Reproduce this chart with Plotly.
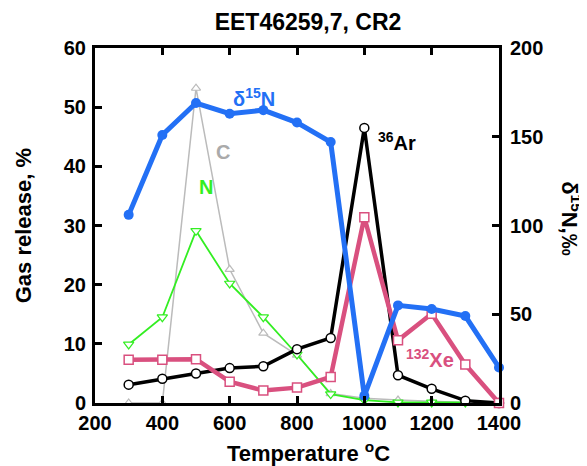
import plotly.graph_objects as go

temps = [300, 400, 500, 600, 700, 800, 900, 1000, 1100, 1200, 1300, 1400]
ar36 = [3.1, 4.1, 5.0, 5.9, 6.2, 9.1, 11.0, 46.5, 4.7, 2.4, 0.4, 0.0]
xe132 = [7.3, 7.3, 7.4, 3.6, 2.1, 2.6, 4.4, 31.4, 10.6, 15.1, 6.5, 0.0]
n_rel = [9.9, 14.5, 29.1, 20.2, 14.5, 8.2, 1.5, 0.5, 0.1, 0.1, 0.1]
c_rel = [0.0, 0.0, 53.2, 22.6, 11.8, 8.1, 1.6, 0.8, 0.5, 0.3, 0.1]
d15n = [106, 151, 169, 163, 165, 158, 147, 4, 55, 53, 49, 20]

x_ticks = [200, 400, 600, 800, 1000, 1200, 1400]
y_ticks = [0, 10, 20, 30, 40, 50, 60]
y2_ticks = [0, 50, 100, 150, 200]

GRAY = "#bbbbbb"
GREEN = "#33ee22"
BLACK = "#000000"
PINK = "#d9507f"
BLUE = "#2370f5"
FONT = "Liberation Sans"

# page offset (browser body margin) and target plot box in screenshot pixels
OFF = 8
W, H = 587 - OFF, 466 - OFF
X0, X1, Y0, Y1 = 95, 499, 47.5, 403  # plot box left, right, top, bottom
L, R, T, B = X0 - OFF, W - (X1 - OFF), Y0 - OFF, H - (Y1 - OFF)
PW = X1 - X0
PH = Y1 - Y0

fig = go.Figure()
fig.add_trace(go.Scatter(x=temps[:len(c_rel)], y=c_rel, mode="lines+markers",
                         line=dict(color=GRAY, width=1.5),
                         marker=dict(symbol="triangle-up", size=8, color="white",
                                     line=dict(color=GRAY, width=1.2)),
                         cliponaxis=False, showlegend=False))
fig.add_trace(go.Scatter(x=temps[:len(n_rel)], y=n_rel, mode="lines+markers",
                         line=dict(color=GREEN, width=1.8),
                         marker=dict(symbol="triangle-down", size=9, color="white",
                                     line=dict(color=GREEN, width=1.2)),
                         cliponaxis=False, showlegend=False))
fig.add_trace(go.Scatter(x=temps, y=ar36, mode="lines+markers",
                         line=dict(color=BLACK, width=3.5),
                         marker=dict(symbol="circle", size=9, color="white",
                                     line=dict(color=BLACK, width=1.5)),
                         cliponaxis=False, showlegend=False))
fig.add_trace(go.Scatter(x=temps, y=xe132, mode="lines+markers",
                         line=dict(color=PINK, width=4.5),
                         marker=dict(symbol="square", size=9, color="white",
                                     line=dict(color=PINK, width=1.5)),
                         cliponaxis=False, showlegend=False))
fig.add_trace(go.Scatter(x=temps, y=d15n, mode="lines+markers", yaxis="y2",
                         line=dict(color=BLUE, width=5),
                         marker=dict(symbol="circle", size=10, color=BLUE),
                         cliponaxis=False, showlegend=False))

tickfont = dict(family=FONT, size=20, color="black")
common = dict(ticks="inside", ticklen=7, tickwidth=3, tickcolor="black",
              showline=True, linewidth=3, linecolor="black",
              showgrid=False, zeroline=False, tickfont=tickfont, automargin=False)


def fx(px):  # screenshot x -> paper fraction
    return (px - X0) / PW


def fy(py):  # screenshot y -> paper fraction
    return (Y1 - py) / PH


fig.update_layout(
    width=W, height=H,
    margin=dict(l=L, r=R, t=T, b=B),
    paper_bgcolor="white", plot_bgcolor="white",
    font=dict(family=FONT, color="black"),
    title=dict(text="<b>EET46259,7, CR2</b>", x=fx(308), xanchor="center",
               xref="paper", yref="container",
               y=1 - (22 - OFF) / H, yanchor="middle", font=dict(family=FONT, size=23)),
    xaxis=dict(range=[200, 1400], tickvals=x_ticks,
               ticktext=["<b>%d</b>" % v for v in x_ticks], mirror="ticks", **common),
    yaxis=dict(range=[0, 60], tickvals=y_ticks, ticklabelstandoff=2,
               ticktext=["<b>%d</b>" % v for v in y_ticks], **common),
    yaxis2=dict(range=[0, 200], tickvals=y2_ticks, ticklabelstandoff=4,
                ticktext=["<b>%d</b>" % v for v in y2_ticks],
                overlaying="y", side="right", **common),
)

annos = [
    dict(x=254, y=97, text="<b>δ<sup>15</sup>N</b>", color=BLUE, size=20),
    dict(x=223, y=152, text="<b>C</b>", color="#aaaaaa", size=20),
    dict(x=206, y=187, text="<b>N</b>", color=GREEN, size=20),
    dict(x=397, y=141, text="<b><sup>36</sup>Ar</b>", color=BLACK, size=20),
    dict(x=430, y=358, text="<b><sup>132</sup>Xe</b>", color=PINK, size=20),
]
for a in annos:
    fig.add_annotation(x=fx(a["x"]), y=fy(a["y"]), xref="paper", yref="paper",
                       text=a["text"], showarrow=False, xanchor="center", yanchor="middle",
                       font=dict(family=FONT, size=a["size"], color=a["color"]))

# axis titles
fig.add_annotation(x=fx(308), y=fy(452), xref="paper", yref="paper",
                   text="<b>Temperature <sup>o</sup>C</b>", showarrow=False,
                   xanchor="center", yanchor="middle",
                   font=dict(family=FONT, size=22, color="black"))
fig.add_annotation(x=fx(23), y=fy(226), xref="paper", yref="paper",
                   text="<b>Gas release, %</b>", textangle=-90, showarrow=False,
                   xanchor="center", yanchor="middle",
                   font=dict(family=FONT, size=22, color="black"))
fig.add_annotation(x=fx(571), y=fy(218), xref="paper", yref="paper",
                   text="<b>δ<sup>15</sup>N,‰</b>", textangle=90, showarrow=False,
                   xanchor="center", yanchor="middle",
                   font=dict(family=FONT, size=22, color="black"))

fig.write_html("out.html")
